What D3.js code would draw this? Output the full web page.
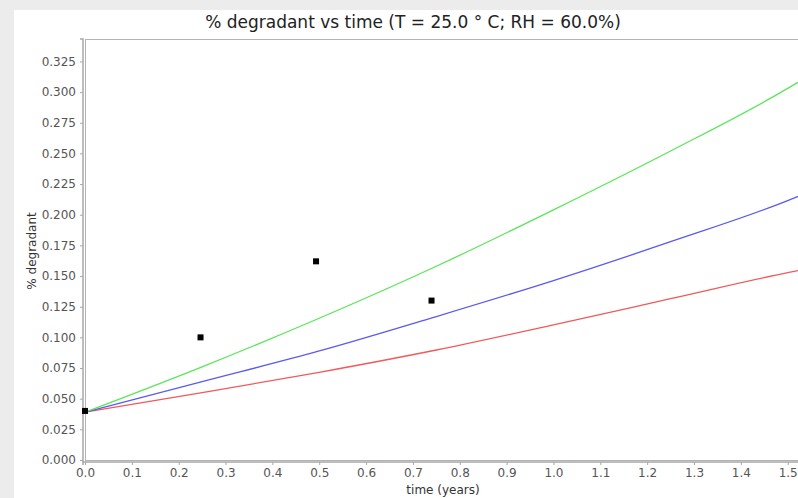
<!DOCTYPE html>
<html>
<head>
<meta charset="utf-8">
<script src="https://cdn.jsdelivr.net/npm/d3@7"></script>
<style>
  html, body { margin: 0; padding: 0; background: #ececec; }
  svg { display: block; }
  text { font-family: "DejaVu Sans", sans-serif; }
</style>
</head>
<body>
<svg id="chart" width="798" height="498"></svg>
<script>
// Measured samples: time in years, % degradant
const sampleTimes = [0.0, 0.2466, 0.4932, 0.7397];
const sampleValues = [0.040, 0.100, 0.162, 0.130];

// Model curves evaluated on a common time grid
const modelTimes = [0.0, 0.25, 0.5, 0.75, 1.0, 1.25, 1.5, 1.522];
const upperValues = [0.0390, 0.0760, 0.1156, 0.1580, 0.2040, 0.2520, 0.3030, 0.3080];
const middleValues = [0.0390, 0.0639, 0.0889, 0.1170, 0.1463, 0.1780, 0.2115, 0.2149];
const lowerValues = [0.0390, 0.0549, 0.0715, 0.0897, 0.1102, 0.1315, 0.1528, 0.1545];

const xTicks = [0.0, 0.1, 0.2, 0.3, 0.4, 0.5, 0.6, 0.7, 0.8, 0.9, 1.0, 1.1, 1.2, 1.3, 1.4, 1.5];
const yTicks = [0.000, 0.025, 0.050, 0.075, 0.100, 0.125, 0.150, 0.175, 0.200, 0.225, 0.250, 0.275, 0.300, 0.325];

const titleText = "% degradant vs time (T = 25.0 \u00B0 C; RH = 60.0%)";
const xLabel = "time (years)";
const yLabel = "% degradant";

const svg = d3.select("#chart");
const W = 798, H = 498;

// white panel
svg.append("rect").attr("x", 14).attr("y", 10).attr("width", W - 14).attr("height", H - 10).attr("fill", "#ffffff");

const plot = { left: 85, top: 39, right: 798, bottom: 460 };

const x = d3.scaleLinear().domain([0, 1.522]).range([plot.left, plot.right]);
const y = d3.scaleLinear().domain([0, 0.3433]).range([plot.bottom, plot.top]);

// plot border
svg.append("rect")
  .attr("x", plot.left + 0.5).attr("y", plot.top + 0.5)
  .attr("width", plot.right - plot.left + 5).attr("height", plot.bottom - plot.top)
  .attr("fill", "none").attr("stroke", "#b4b4b4").attr("stroke-width", 1);

// y axis
const yAxis = svg.append("g").attr("transform", `translate(${plot.left - 2},0)`)
  .call(d3.axisLeft(y).tickValues(yTicks).tickFormat(d3.format(".3f")).tickSize(3).tickPadding(4));
// x axis
const xAxis = svg.append("g").attr("transform", `translate(0,${plot.bottom + 2})`)
  .call(d3.axisBottom(x).tickValues(xTicks).tickFormat(d3.format(".1f")).tickSize(3).tickPadding(3));

[yAxis, xAxis].forEach(g => {
  g.select(".domain").attr("stroke", "#a8a8a8").attr("stroke-width", 1.5);
  g.selectAll(".tick line").attr("stroke", "#a8a8a8");
  g.selectAll(".tick text").attr("fill", "#555555").style("font-size", "12px").style("font-family", "'DejaVu Sans', sans-serif");
});
yAxis.select(".domain").attr("d", `M-3,${plot.top}H0V${plot.bottom + 2}`);
xAxis.select(".domain").attr("d", `M${plot.left - 2},3V0H${plot.right}`);

// model curves
const clipId = "plotClip";
svg.append("clipPath").attr("id", clipId).append("rect")
  .attr("x", plot.left).attr("y", plot.top).attr("width", plot.right - plot.left).attr("height", plot.bottom - plot.top);

const line = d3.line().x(d => x(d[0])).y(d => y(d[1])).curve(d3.curveMonotoneX);
const curves = [
  { values: lowerValues, color: "#f05a5a" },
  { values: middleValues, color: "#5a5af0" },
  { values: upperValues, color: "#5ae65a" }
];
const curveG = svg.append("g").attr("clip-path", `url(#${clipId})`);
curves.forEach(c => {
  curveG.append("path")
    .datum(modelTimes.map((t, i) => [t, c.values[i]]))
    .attr("d", line)
    .attr("fill", "none")
    .attr("stroke", c.color)
    .attr("stroke-width", 1.3);
});

// measured points
svg.append("g").selectAll("rect")
  .data(sampleTimes.map((t, i) => [t, sampleValues[i]]))
  .join("rect")
  .attr("x", d => x(d[0]) - 3).attr("y", d => y(d[1]) - 3)
  .attr("width", 6).attr("height", 6)
  .attr("fill", "#000000");

// title and axis labels
svg.append("text").attr("x", 413).attr("y", 28).attr("text-anchor", "middle")
  .attr("fill", "#222").style("font-size", "17px").text(titleText);
svg.append("text").attr("x", 443).attr("y", 494).attr("text-anchor", "middle")
  .attr("fill", "#333").style("font-size", "12px").text(xLabel);
svg.append("text").attr("transform", "translate(36,251) rotate(-90)").attr("text-anchor", "middle")
  .attr("fill", "#333").style("font-size", "12px").text(yLabel);
</script>
</body>
</html>
